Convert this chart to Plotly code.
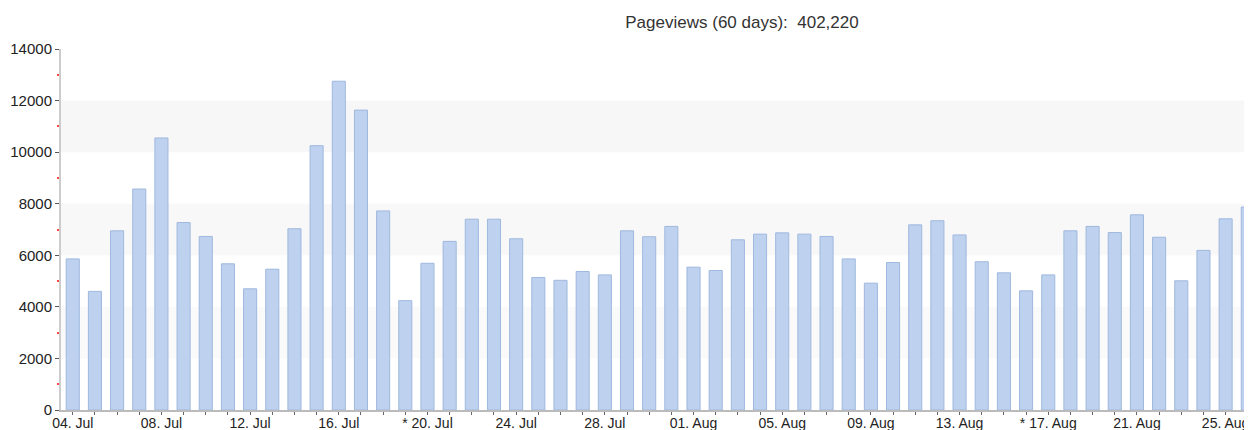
import plotly.graph_objects as go

# Data (04 Jul .. 26 Aug)
days = ["04. Jul", "05. Jul", "06. Jul", "07. Jul", "08. Jul", "09. Jul", "10. Jul", "11. Jul",
        "12. Jul", "13. Jul", "14. Jul", "15. Jul", "16. Jul", "17. Jul", "18. Jul", "19. Jul",
        "20. Jul", "21. Jul", "22. Jul", "23. Jul", "24. Jul", "25. Jul", "26. Jul", "27. Jul",
        "28. Jul", "29. Jul", "30. Jul", "31. Jul", "01. Aug", "02. Aug", "03. Aug", "04. Aug",
        "05. Aug", "06. Aug", "07. Aug", "08. Aug", "09. Aug", "10. Aug", "11. Aug", "12. Aug",
        "13. Aug", "14. Aug", "15. Aug", "16. Aug", "17. Aug", "18. Aug", "19. Aug", "20. Aug",
        "21. Aug", "22. Aug", "23. Aug", "24. Aug", "25. Aug", "26. Aug"]

pageviews = [5860, 4600, 6950, 8570, 10550, 7270, 6730, 5670,
             4700, 5460, 7030, 10250, 12750, 11630, 7720, 4240,
             5690, 6540, 7400, 7400, 6640, 5140, 5030, 5370,
             5240, 6950, 6720, 7120, 5540, 5410, 6600, 6820,
             6870, 6820, 6730, 5860, 4920, 5720, 7180, 7340,
             6790, 5750, 5320, 4620, 5240, 6950, 7120, 6880,
             7570, 6700, 5010, 6190, 7415, 7870]

tick_labels = {"04. Jul": "04. Jul", "08. Jul": "08. Jul", "12. Jul": "12. Jul",
               "16. Jul": "16. Jul", "20. Jul": "* 20. Jul", "24. Jul": "24. Jul",
               "28. Jul": "28. Jul", "01. Aug": "01. Aug", "05. Aug": "05. Aug",
               "09. Aug": "09. Aug", "13. Aug": "13. Aug", "17. Aug": "* 17. Aug",
               "21. Aug": "21. Aug", "25. Aug": "25. Aug"}

title_text = "Pageviews (60 days):&nbsp;&nbsp;402,220"
bands = [(10000, 12000, "#f7f7f7"), (6000, 8000, "#f8f8f8"), (2000, 4000, "#fafafa")]

W, H = 1244, 422  # page body adds an 8px margin

fig = go.Figure()
fig.add_trace(go.Bar(
    x=days, y=pageviews,
    width=0.59,
    marker=dict(color="#bed2ef", line=dict(color="#9fb8de", width=1)),
    hoverinfo="x+y",
))

for y0, y1, col in bands:
    fig.add_shape(type="rect", xref="paper", yref="y", x0=0, x1=1, y0=y0, y1=y1,
                  fillcolor=col, line=dict(width=0), layer="below")

fig.update_layout(
    width=W, height=H,
    margin=dict(l=53, r=0, t=41, b=20),
    paper_bgcolor="white", plot_bgcolor="white",
    showlegend=False,
    font=dict(family="Liberation Sans, Arial, sans-serif", size=15, color="#222"),
    title=dict(text=title_text, x=734 / W, xanchor="center", xref="container",
               y=1 - 14 / H, yref="container", yanchor="middle",
               font=dict(size=17, color="#333", family="Liberation Sans, Arial, sans-serif")),
)

fig.update_xaxes(
    type="category",
    range=[-0.53, 53.19],
    automargin=False,
    tickmode="array",
    tickvals=days,
    ticktext=[tick_labels.get(d, "") for d in days],
    ticks="outside", ticklen=3, tickwidth=1, tickcolor="#666",
    ticklabelstandoff=-4,
    showline=True, linecolor="#bbbbbb", linewidth=2,
    showgrid=False, zeroline=False,
    tickangle=0,
    tickfont=dict(size=14, color="#222"),
    fixedrange=True,
)

fig.update_yaxes(
    range=[0, 14000],
    automargin=False,
    tickmode="linear", tick0=0, dtick=2000, tickformat="d",
    ticks="outside", ticklen=4, tickwidth=1, tickcolor="#555",
    showline=True, linecolor="#cccccc", linewidth=2,
    showgrid=False, zeroline=False,
    tickfont=dict(size=15, color="#222"),
    minor=dict(dtick=1000, tick0=0, ticks="outside", ticklen=2, tickwidth=2, tickcolor="#ff4444"),
    fixedrange=True,
)

fig.write_html("out.html")
